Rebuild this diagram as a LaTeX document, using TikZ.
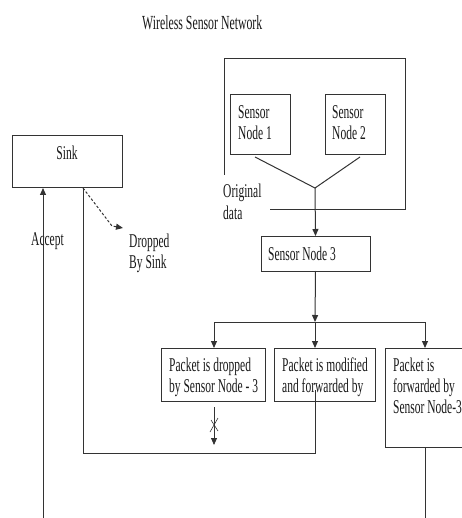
\documentclass[tikz,border=0pt]{standalone}
\usepackage{fontspec}
\setmainfont{Liberation Serif}[FakeStretch=0.59]
\usetikzlibrary{arrows.meta}
\newcommand\twolines[2]{\vtop{\hbox{#1}\hbox{#2}}}
\newcommand\threelines[3]{\vtop{\hbox{#1}\hbox{#2}\hbox{#3}}}
\begin{document}
\begin{tikzpicture}[x=1pt,y=-1pt,
  box/.style={draw=black!80,line width=1pt,inner sep=0pt,outer sep=0pt},
  wire/.style={draw=black!80,line width=1pt},
  arr/.style={wire,-{Triangle[length=7pt,width=6pt]}},
  txt/.style={text=black!90,inner sep=0pt,anchor=base west,
    font=\fontsize{19.5}{21}\selectfont}]
\useasboundingbox (0,0) rectangle (461,518);

% title
\node[txt,font=\fontsize{20}{22}\selectfont] (title) at (142,30) {Wireless Sensor Network};

% network enclosure (open at the lower left)
\draw[wire] (224,175) -- (224,59) -- (405,59) -- (405,210) -- (270,210);

% boxes
\node[box,minimum width=60,minimum height=60] (sn1) at (260,125) {};
\node[box,minimum width=60,minimum height=60] (sn2) at (355,125) {};
\node[box,minimum width=109,minimum height=35] (sn3) at (315.5,253.5) {};
\node[box,minimum width=110,minimum height=52] (sink) at (67,162) {};
\node[box,minimum width=104,minimum height=53] (boxA) at (213,374.5) {};
\node[box,minimum width=101,minimum height=53] (boxB) at (324.5,374.5) {};
\node[box,minimum width=85,minimum height=99] (boxC) at (427.5,397.5) {};

% box texts
\node[txt] (sn1t) at (238,119) {\twolines{Sensor}{Node 1}};
\node[txt] (sn2t) at (332,119) {\twolines{Sensor}{Node 2}};
\node[txt] (sn3t) at (268,260) {Sensor Node 3};
\node[txt,anchor=base] (sinkt) at (67,160) {Sink};
\node[txt] (boxAt) at (169,371) {\twolines{Packet is dropped}{by Sensor Node - 3}};
\node[txt] (boxBt) at (282,371) {\twolines{Packet is modified}{and forwarded by}};
\node[txt] (boxCt) at (393,371) {\threelines{Packet is}{forwarded by}{Sensor Node-3}};

% free labels
\node[txt] (orig) at (223,198) {\twolines{Original}{data}};
\node[txt] (acc) at (31,245) {Accept};
\node[txt] (drop) at (129,247) {\twolines{Dropped}{By Sink}};

% merge of the two sensor outputs
\coordinate (join) at (315,188);
\draw[wire] ([xshift=-5pt,yshift=-2pt]sn1.south) -- (join) -- ([xshift=5pt,yshift=-2pt]sn2.south);
\draw[arr] (join) -- (sn3.north);

% split into three outcomes
\coordinate (split) at (315,322);
\coordinate (splitL) at (214,322);
\coordinate (splitR) at (425,322);
\draw[arr] (sn3.south) -- (split);
\draw[wire] (splitL) -- (splitR);
\draw[arr] (splitL) -- (splitL |- boxA.north);
\draw[arr] (split) -- (split |- boxB.north);
\draw[arr] (splitR) -- (splitR |- boxC.north);

% dropped packet path, crossed out
\coordinate (dropstart) at (214,407);
\coordinate (dropend) at (214,445);
\draw[arr,line width=0.8pt] (dropstart) -- (dropend);
\draw[wire,line width=0.6pt] (210,432) -- (218,418);
\draw[wire,line width=0.6pt] (211,420) -- (218,431);

% modified packet back to the sink
\coordinate (loopstart) at (315,390);
\coordinate (loopB) at (315,453);
\coordinate (loopC) at (83,453);
\draw[wire] (loopstart) -- (loopB) -- (loopC) -- (loopC |- sink.south);

% dropped by sink
\coordinate (dropbend) at (112,226);
\coordinate (droptip) at (123,228);
\draw[arr,dash pattern=on 2.5pt off 2pt] (loopC |- sink.south) -- (dropbend) -- (droptip);

% accepted path into the sink
\coordinate (acceptfoot) at (43,518);
\draw[arr] (acceptfoot) -- (acceptfoot |- sink.south);

% forwarded packet leaves downwards
\coordinate (cfoot) at (425,518);
\draw[wire] (splitR |- boxC.south) -- (cfoot);
\end{tikzpicture}
\end{document}
